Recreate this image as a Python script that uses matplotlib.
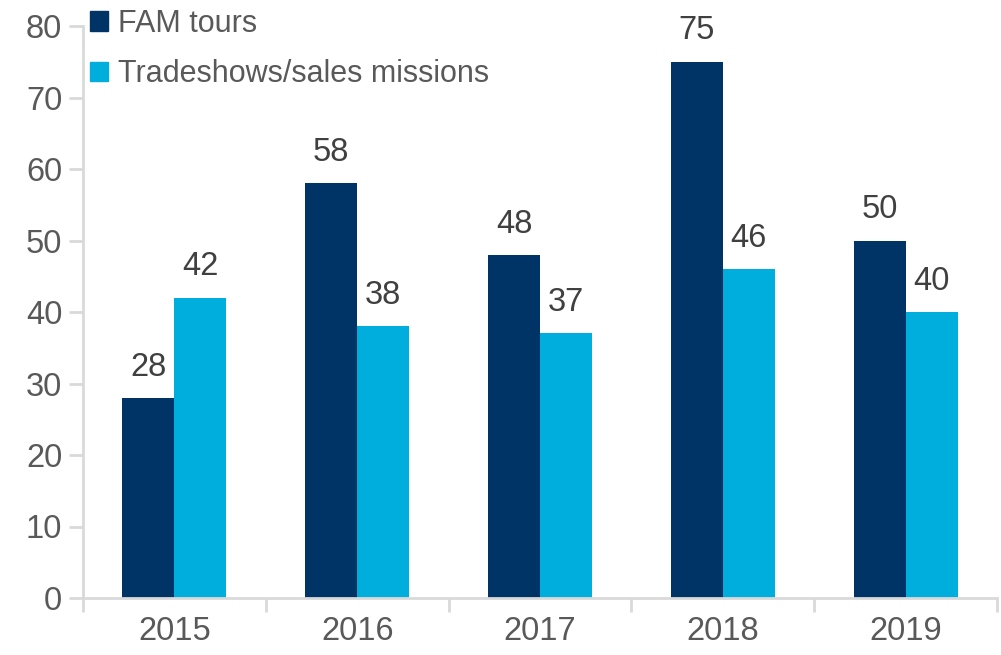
import matplotlib
matplotlib.use("Agg")
import matplotlib.pyplot as plt
import numpy as np
from matplotlib.patches import Patch

years = ["2015", "2016", "2017", "2018", "2019"]
fam_tours = [28, 58, 48, 75, 50]
tradeshows = [42, 38, 37, 46, 40]
series_names = ["FAM tours", "Tradeshows/sales missions"]
colors = ["#003366", "#00AEDD"]

plt.rcParams['font.family'] = ['Liberation Sans', 'DejaVu Sans']
txt = "#595959"
grid = "#D9D9D9"
fs = 23.5

fig = plt.figure(figsize=(10.01, 6.55), dpi=100)
ax = fig.add_axes([83/1001, 1-598/655, (997-83)/1001, (598-26)/655])

x = np.arange(len(years))
w = 0.285
b1 = ax.bar(x - w/2, fam_tours, w, color=colors[0])
b2 = ax.bar(x + w/2, tradeshows, w, color=colors[1])

for bars, vals in ((b1, fam_tours), (b2, tradeshows)):
    for r, v in zip(bars, vals):
        ax.annotate(str(v), (r.get_x() + r.get_width()/2, v), xytext=(0, 11),
                    textcoords="offset points", ha="center", va="bottom",
                    fontsize=fs, color="#404040")

ax.set_xlim(-0.5, len(years) - 0.5)
ax.set_ylim(0, 80)
ax.set_yticks(range(0, 81, 10))
ax.tick_params(axis='y', labelsize=fs, labelcolor=txt, color=grid, length=10, width=2, pad=5)
ax.set_xticks(x)
ax.set_xticklabels(years)
ax.tick_params(axis='x', which='major', length=0, labelsize=fs, labelcolor=txt, pad=13)
ax.set_xticks(np.arange(-0.5, len(years)), minor=True)
ax.tick_params(axis='x', which='minor', length=10, width=2, color=grid)

for s in ["top", "right"]:
    ax.spines[s].set_visible(False)
for s in ["left", "bottom"]:
    ax.spines[s].set_color(grid)
    ax.spines[s].set_linewidth(2)

handles = [Patch(color=c) for c in colors]
leg = ax.legend(handles, series_names, loc="upper left", bbox_to_anchor=(7/914, 1.03),
                frameon=False, fontsize=22, handlelength=0.6, handleheight=0.6,
                handletextpad=0.3, labelspacing=0.66, borderaxespad=0, borderpad=0)
for t in leg.get_texts():
    t.set_color(txt)

fig.savefig("out.png", dpi=100)
